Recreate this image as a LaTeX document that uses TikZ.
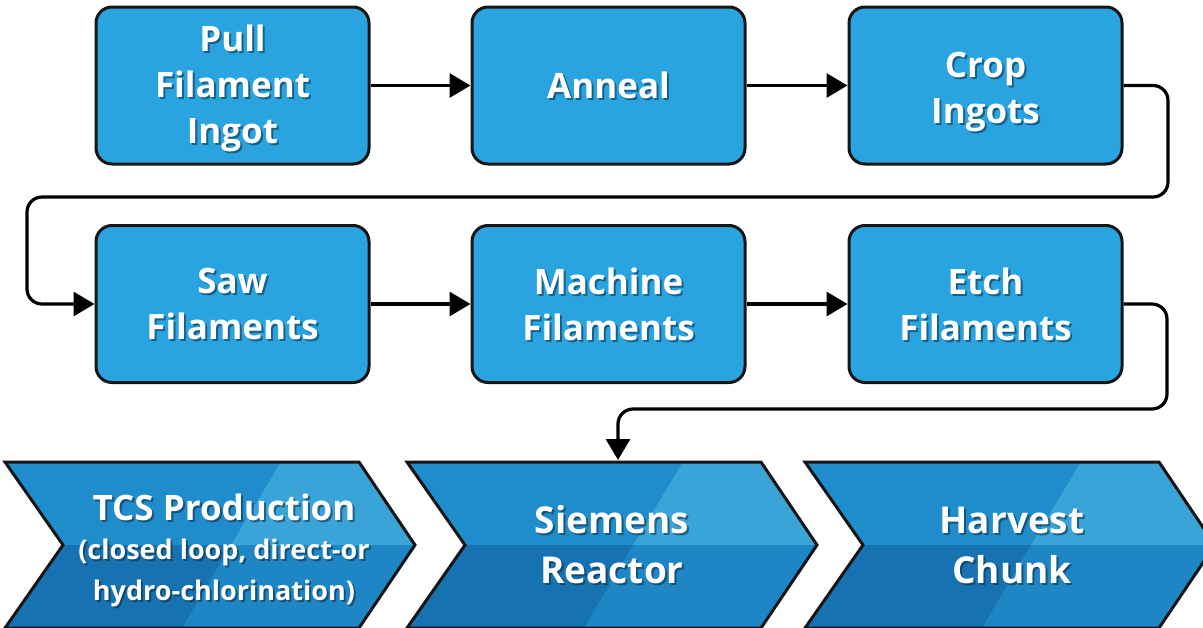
\documentclass[tikz,border=0pt]{standalone}
\usepackage{fontspec}
\setmainfont{Open Sans}
\usetikzlibrary{arrows.meta,calc}
\definecolor{boxblue}{HTML}{29A4E0}
\definecolor{edge}{HTML}{151515}
\definecolor{chTL}{HTML}{1F8CCB}
\definecolor{chTR}{HTML}{3AA3D8}
\definecolor{chBL}{HTML}{1672B0}
\definecolor{chBR}{HTML}{1F86C5}
\definecolor{shad}{HTML}{0A2A40}
\tikzset{
  stepbox/.style={draw=edge, fill=boxblue, line width=3pt, rounded corners=16pt,
    minimum width=273pt, minimum height=157pt, inner sep=0pt},
  boxtxt/.style={text=white, font=\bfseries\fontsize{35}{46}\selectfont, align=center, inner sep=0pt},
  chevtxt/.style={text=white, font=\bfseries\fontsize{37}{50}\selectfont, align=center, inner sep=0pt},
  shadtxt/.style={text=shad, opacity=0.55},
  conn/.style={draw=black, line width=3.2pt, -{Triangle[length=21pt,width=24pt]}},
  chevedge/.style={draw=edge, line width=3pt, line join=miter},
}
\newcommand{\chevshape}[1]{({#1},462) -- ({#1+354},462) -- ({#1+410},545) -- ({#1+354},628) -- ({#1},628) -- ({#1+58},545) -- cycle}
\newcommand{\chevron}[1]{%
  \begin{scope}
    \clip \chevshape{#1};
    \fill[chTL] ({#1-10},455) rectangle ({#1+430},545);
    \fill[chBL] ({#1-10},545) rectangle ({#1+430},640);
    \fill[chTR] ({#1+280},455) -- ({#1+430},455) -- ({#1+430},545) -- ({#1+226},545) -- cycle;
    \fill[chBR] ({#1+226},545) -- ({#1+430},545) -- ({#1+430},640) -- ({#1+170},640) -- cycle;
  \end{scope}
  \draw[chevedge] \chevshape{#1};}
\newcommand{\shtext}[4]{% name, style, position, text
  \node[#2, shadtxt] (#1-s) at ($(#3)+(2,2)$) {#4};
  \node[#2] (#1) at (#3) {#4};}
\begin{document}
\begin{tikzpicture}[x=1pt, y=-1pt]
\useasboundingbox (0,0) rectangle (1203,627);
% top row
\node[stepbox] (b1) at (232.5,85.5) {};
\node[stepbox] (b2) at (608.5,85.5) {};
\node[stepbox] (b3) at (985.5,85.5) {};
% second row
\node[stepbox] (b4) at (232.5,304) {};
\node[stepbox] (b5) at (608.5,304) {};
\node[stepbox] (b6) at (985.5,304) {};
\shtext{t1}{boxtxt}{232.5,88}{Pull\\Filament\\Ingot}
\shtext{t2}{boxtxt}{608.5,85}{Anneal}
\shtext{t3}{boxtxt}{985.5,92}{Crop\\Ingots}
\shtext{t4}{boxtxt}{232.5,304}{Saw\\Filaments}
\shtext{t5}{boxtxt}{608.5,304}{Machine\\Filaments}
\shtext{t6}{boxtxt}{985.5,304}{Etch\\Filaments}
% chevrons
\chevron{5}
\chevron{407}
\chevron{805}
\shtext{c1}{boxtxt}{224,550}{TCS Production\\[-7pt]{\fontsize{27}{34}\selectfont (closed loop, direct-or}\\[-5pt]{\fontsize{27}{34}\selectfont hydro-chlorination)}}
\shtext{c2}{chevtxt}{612,545}{Siemens\\Reactor}
\shtext{c3}{chevtxt}{1012,545}{Harvest\\Chunk}
% connectors
\coordinate (r1) at (1168,197);
\coordinate (l1) at (27,197);
\coordinate (r2) at (1167,409);
\coordinate (in2) at (618,460);
\draw[conn] (b1) -- (b2);
\draw[conn] (b2) -- (b3);
\draw[conn] (b4) -- (b5);
\draw[conn] (b5) -- (b6);
\draw[conn, rounded corners=15pt] (b3.east) -| (r1) -- (l1) |- (b4.west);
\draw[conn, rounded corners=15pt] (b6.east) -| (r2) -| (in2);
\end{tikzpicture}
\end{document}
